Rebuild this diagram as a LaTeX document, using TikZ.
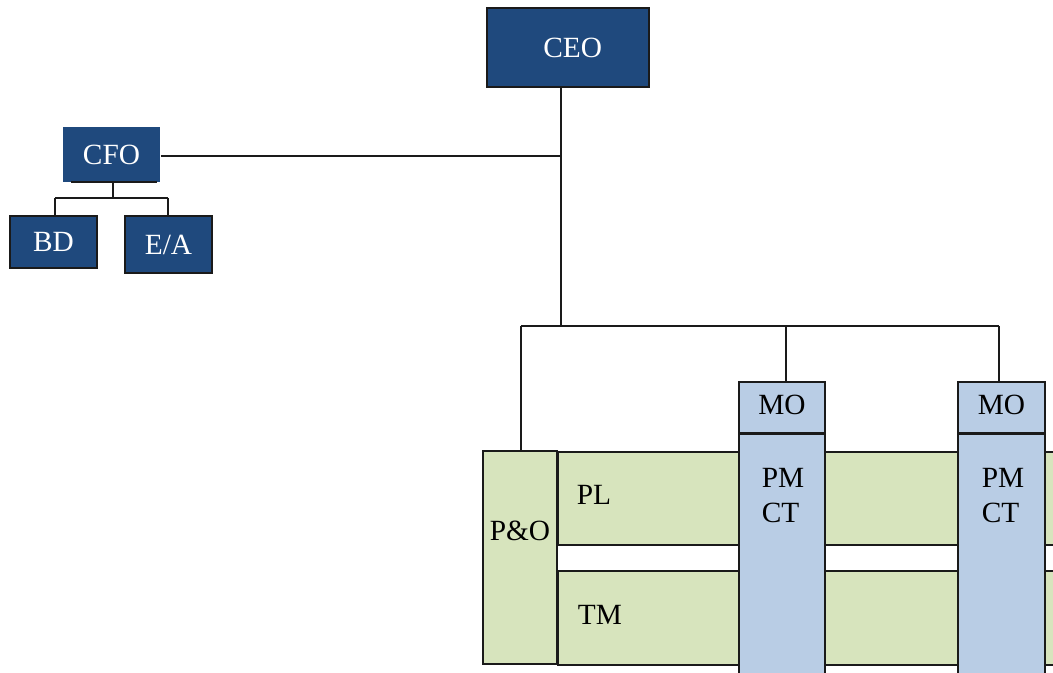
\documentclass[tikz,border=0pt]{standalone}
\usepackage{fontspec}
\setmainfont{Liberation Serif}
\definecolor{navy}{HTML}{1F497D}
\definecolor{paleblue}{HTML}{B9CDE5}
\definecolor{palegreen}{HTML}{D7E4BD}
\definecolor{edge}{HTML}{1A1A1A}
\tikzset{
  lbl/.style={font=\fontsize{22}{26.25}\selectfont},
  execbox/.style={lbl, rectangle, fill=navy, draw=edge, text=white, inner sep=0pt},
  greenbox/.style={rectangle, fill=palegreen, draw=edge, inner sep=0pt},
  bluebox/.style={rectangle, fill=paleblue, draw=edge, inner sep=0pt},
  wire/.style={draw=edge, line width=1.4pt}
}
\begin{document}
\begin{tikzpicture}[x=0.75pt, y=-0.75pt, line width=1.4pt]
\useasboundingbox (0,0) rectangle (1053,673);
\clip (0,0) rectangle (1053,673);

% executive boxes
\node[execbox, minimum width=121.5pt, minimum height=59.25pt] (CEO) at (568,47.5) {\hspace{7pt}CEO};
\node[execbox, draw=none, minimum width=72.75pt, minimum height=41.25pt] (CFO) at (111.5,154.5) {CFO};
\draw[edge, line width=1.4pt] (71,182) -- (157,182);
\node[execbox, minimum width=65.25pt, minimum height=39pt] (BD) at (53.5,242) {BD};
\node[execbox, minimum width=65.25pt, minimum height=42.75pt] (EA) at (168.5,244.5) {E/A};

% horizontal bands
\node[greenbox, anchor=north west, minimum width=420pt, minimum height=69.75pt] (PL) at (557,451) {};
\node[greenbox, anchor=north west, minimum width=420pt, minimum height=70.5pt] (TM) at (557,570) {};
\node[lbl, anchor=west, inner sep=0pt] (PLtext) at (576,495) {PL};
\node[lbl, anchor=west, inner sep=0pt] (TMtext) at (577,615) {TM};

% P&O block
\node[greenbox, minimum width=55.5pt, minimum height=159.75pt] (PO) at (520,557.5) {};
\node[lbl, inner sep=0pt] (POtext) at (520,531) {P\&O};

% vertical columns
\node[bluebox, anchor=north, minimum width=64.5pt, minimum height=200pt] (PM1) at (782,433) {};
\node[bluebox, minimum width=64.5pt, minimum height=38.25pt] (MO1) at (782,407.5) {};
\node[lbl, inner sep=0pt] (MO1text) at (782,405) {MO};
\node[lbl, align=left, inner sep=0pt] (PM1text) at (783,495.5) {PM\\CT};

\node[bluebox, anchor=north, minimum width=65.25pt, minimum height=200pt] (PM2) at (1001.5,433) {};
\node[bluebox, minimum width=65.25pt, minimum height=38.25pt] (MO2) at (1001.5,407.5) {};
\node[lbl, inner sep=0pt] (MO2text) at (1001.5,405) {MO};
\node[lbl, align=left, inner sep=0pt] (PM2text) at (1003,495.5) {PM\\CT};

% connectors
\coordinate (cfoJ) at (561,156);
\coordinate (busJ) at (561,326);
\coordinate (busL) at (521,326);
\coordinate (bus1) at (786,326);
\coordinate (bus2) at (999,326);
\draw[wire] (CEO.south -| busJ) -- (busJ);
\draw[wire] (CFO.east |- cfoJ) -- (cfoJ);
\draw[wire] (busL) -- (bus2);
\draw[wire] (busL) -- (busL |- PO.north);
\draw[wire] (bus1) -- (bus1 |- MO1.north);
\draw[wire] (bus2) -- (bus2 |- MO2.north);

\coordinate (cfoS) at (113,198);
\draw[wire] (113,182) -- (cfoS);
\draw[wire] (55,198) -- (168,198);
\draw[wire] (55,198) -- (55,216);
\draw[wire] (168,198) -- (168,216);
\end{tikzpicture}
\end{document}
